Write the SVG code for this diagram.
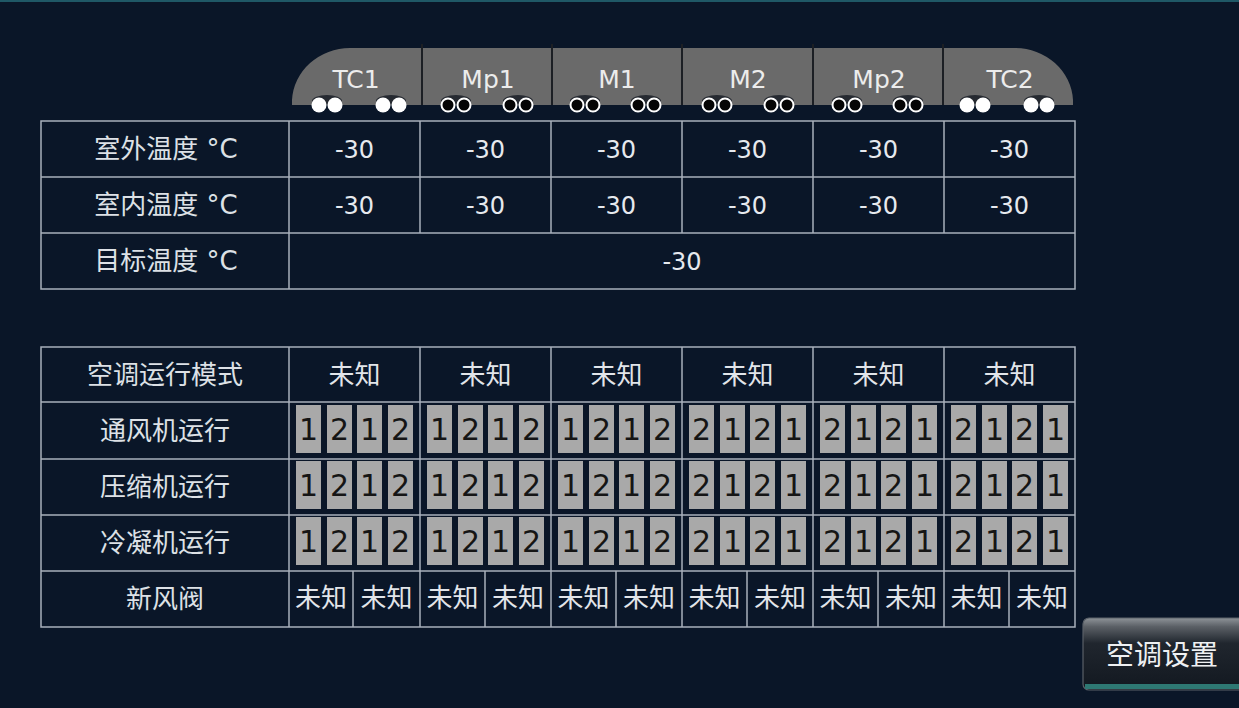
<svg xmlns="http://www.w3.org/2000/svg" width="1239" height="708" viewBox="0 0 1239 708">
<defs>
<style>
.ln{stroke:#a8b0bb;stroke-width:1.5;fill:none}
.lbl{font-family:"DejaVu Sans","Noto Sans CJK SC",sans-serif;font-size:26px;fill:#dde1e6;text-anchor:middle}
.val{font-family:"DejaVu Sans",sans-serif;font-size:24px;fill:#e6e9ee;text-anchor:middle}
.hd{font-family:"DejaVu Sans",sans-serif;font-size:25px;fill:#ececec;text-anchor:middle}
.cj{font-family:"Noto Sans CJK SC",sans-serif;font-size:26px;fill:#e2e5ea;text-anchor:middle}
.bx{fill:#a9a9a9}
.dg{font-family:"DejaVu Sans",sans-serif;font-size:30px;fill:#151515;text-anchor:middle}
.sep{stroke:#1c1f24;stroke-width:2}
.halo{fill:#262a31}
.fc{fill:#ffffff}
.oc{fill:#050505;stroke:#ffffff;stroke-width:2}
</style>
<linearGradient id="btn" x1="0" y1="0" x2="0" y2="1">
<stop offset="0" stop-color="#8e9398"/>
<stop offset="0.12" stop-color="#5b6066"/>
<stop offset="0.35" stop-color="#20262e"/>
<stop offset="1" stop-color="#121820"/>
</linearGradient>
<g id="b1212">
<rect class="bx" x="7" y="2" width="25" height="48"/>
<rect class="bx" x="38" y="2" width="25" height="48"/>
<rect class="bx" x="68" y="2" width="25" height="48"/>
<rect class="bx" x="99" y="2" width="25" height="48"/>
<text class="dg" x="19.5" y="37">1</text>
<text class="dg" x="50.5" y="37">2</text>
<text class="dg" x="80.5" y="37">1</text>
<text class="dg" x="111.5" y="37">2</text>
</g>
<g id="b2121">
<rect class="bx" x="7" y="2" width="25" height="48"/>
<rect class="bx" x="38" y="2" width="25" height="48"/>
<rect class="bx" x="68" y="2" width="25" height="48"/>
<rect class="bx" x="99" y="2" width="25" height="48"/>
<text class="dg" x="19.5" y="37">2</text>
<text class="dg" x="50.5" y="37">1</text>
<text class="dg" x="80.5" y="37">2</text>
<text class="dg" x="111.5" y="37">1</text>
</g>
</defs>

<rect x="0" y="0" width="1239" height="708" fill="#0a1628"/>
<rect x="0" y="0" width="1239" height="2" fill="#1f5866"/>

<g id="header">
<path d="M292,105 L292,100 A58,55 0 0 1 350,48 L1015,48 A58,55 0 0 1 1073,100 L1073,105 Z" fill="#6a6a6a"/>
<line class="sep" x1="422" y1="44" x2="422" y2="105"/>
<line class="sep" x1="552" y1="44" x2="552" y2="105"/>
<line class="sep" x1="682" y1="44" x2="682" y2="105"/>
<line class="sep" x1="813" y1="44" x2="813" y2="105"/>
<line class="sep" x1="943" y1="44" x2="943" y2="105"/>
<text class="hd" x="356" y="88">TC1</text>
<text class="hd" x="488" y="88">Mp1</text>
<text class="hd" x="617" y="88">M1</text>
<text class="hd" x="748" y="88">M2</text>
<text class="hd" x="879" y="88">Mp2</text>
<text class="hd" x="1010" y="88">TC2</text>
<g id="halos">
<ellipse class="halo" cx="327" cy="101" rx="15" ry="6"/>
<ellipse class="halo" cx="391" cy="101" rx="15" ry="6"/>
<ellipse class="halo" cx="456" cy="101" rx="15" ry="6"/>
<ellipse class="halo" cx="518" cy="101" rx="15" ry="6"/>
<ellipse class="halo" cx="585" cy="101" rx="15" ry="6"/>
<ellipse class="halo" cx="646" cy="101" rx="15" ry="6"/>
<ellipse class="halo" cx="717" cy="101" rx="15" ry="6"/>
<ellipse class="halo" cx="779" cy="101" rx="15" ry="6"/>
<ellipse class="halo" cx="847" cy="101" rx="15" ry="6"/>
<ellipse class="halo" cx="908" cy="101" rx="15" ry="6"/>
<ellipse class="halo" cx="975" cy="101" rx="15" ry="6"/>
<ellipse class="halo" cx="1039" cy="101" rx="15" ry="6"/>
</g>
<rect x="292" y="105" width="781" height="12" fill="#0a1628"/>
<g id="dots">
<circle class="fc" cx="319" cy="105" r="7.5"/><circle class="fc" cx="335" cy="105" r="7.5"/>
<circle class="fc" cx="383" cy="105" r="7.5"/><circle class="fc" cx="399" cy="105" r="7.5"/>
<circle class="oc" cx="448" cy="105" r="6.5"/><circle class="oc" cx="464" cy="105" r="6.5"/>
<circle class="oc" cx="510" cy="105" r="6.5"/><circle class="oc" cx="526" cy="105" r="6.5"/>
<circle class="oc" cx="577" cy="105" r="6.5"/><circle class="oc" cx="593" cy="105" r="6.5"/>
<circle class="oc" cx="638" cy="105" r="6.5"/><circle class="oc" cx="654" cy="105" r="6.5"/>
<circle class="oc" cx="709" cy="105" r="6.5"/><circle class="oc" cx="725" cy="105" r="6.5"/>
<circle class="oc" cx="771" cy="105" r="6.5"/><circle class="oc" cx="787" cy="105" r="6.5"/>
<circle class="oc" cx="839" cy="105" r="6.5"/><circle class="oc" cx="855" cy="105" r="6.5"/>
<circle class="oc" cx="900" cy="105" r="6.5"/><circle class="oc" cx="916" cy="105" r="6.5"/>
<circle class="fc" cx="967" cy="105" r="7.5"/><circle class="fc" cx="983" cy="105" r="7.5"/>
<circle class="fc" cx="1031" cy="105" r="7.5"/><circle class="fc" cx="1047" cy="105" r="7.5"/>
</g>
</g>

<g id="table1">
<rect class="ln" x="41" y="121" width="1034" height="168"/>
<line class="ln" x1="41" y1="177" x2="1075" y2="177"/>
<line class="ln" x1="41" y1="233" x2="1075" y2="233"/>
<line class="ln" x1="289" y1="121" x2="289" y2="289"/>
<line class="ln" x1="420" y1="121" x2="420" y2="233"/>
<line class="ln" x1="551" y1="121" x2="551" y2="233"/>
<line class="ln" x1="682" y1="121" x2="682" y2="233"/>
<line class="ln" x1="813" y1="121" x2="813" y2="233"/>
<line class="ln" x1="944" y1="121" x2="944" y2="233"/>
<text class="lbl" x="166" y="158">室外温度 °C</text>
<text class="lbl" x="166" y="214">室内温度 °C</text>
<text class="lbl" x="166" y="270">目标温度 °C</text>
<text class="val" x="354.5" y="158">-30</text>
<text class="val" x="485.5" y="158">-30</text>
<text class="val" x="616.5" y="158">-30</text>
<text class="val" x="747.5" y="158">-30</text>
<text class="val" x="878.5" y="158">-30</text>
<text class="val" x="1009.5" y="158">-30</text>
<text class="val" x="354.5" y="214">-30</text>
<text class="val" x="485.5" y="214">-30</text>
<text class="val" x="616.5" y="214">-30</text>
<text class="val" x="747.5" y="214">-30</text>
<text class="val" x="878.5" y="214">-30</text>
<text class="val" x="1009.5" y="214">-30</text>
<text class="val" x="682" y="270">-30</text>
</g>

<g id="table2">
<rect class="ln" x="41" y="347" width="1034" height="280"/>
<line class="ln" x1="41" y1="402" x2="1075" y2="402"/>
<line class="ln" x1="41" y1="459" x2="1075" y2="459"/>
<line class="ln" x1="41" y1="515" x2="1075" y2="515"/>
<line class="ln" x1="41" y1="571" x2="1075" y2="571"/>
<line class="ln" x1="289" y1="347" x2="289" y2="627"/>
<line class="ln" x1="420" y1="347" x2="420" y2="627"/>
<line class="ln" x1="551" y1="347" x2="551" y2="627"/>
<line class="ln" x1="682" y1="347" x2="682" y2="627"/>
<line class="ln" x1="813" y1="347" x2="813" y2="627"/>
<line class="ln" x1="944" y1="347" x2="944" y2="627"/>
<line class="ln" x1="353" y1="571" x2="353" y2="627"/>
<line class="ln" x1="485" y1="571" x2="485" y2="627"/>
<line class="ln" x1="616" y1="571" x2="616" y2="627"/>
<line class="ln" x1="747" y1="571" x2="747" y2="627"/>
<line class="ln" x1="878" y1="571" x2="878" y2="627"/>
<line class="ln" x1="1009" y1="571" x2="1009" y2="627"/>
<text class="lbl" x="165" y="384">空调运行模式</text>
<text class="lbl" x="165" y="440">通风机运行</text>
<text class="lbl" x="165" y="496">压缩机运行</text>
<text class="lbl" x="165" y="552">冷凝机运行</text>
<text class="lbl" x="165" y="608">新风阀</text>
<text class="cj" x="354.5" y="384">未知</text>
<text class="cj" x="485.5" y="384">未知</text>
<text class="cj" x="616.5" y="384">未知</text>
<text class="cj" x="747.5" y="384">未知</text>
<text class="cj" x="878.5" y="384">未知</text>
<text class="cj" x="1009.5" y="384">未知</text>
<use href="#b1212" x="289" y="403"/>
<use href="#b1212" x="420" y="403"/>
<use href="#b1212" x="551" y="403"/>
<use href="#b2121" x="682" y="403"/>
<use href="#b2121" x="813" y="403"/>
<use href="#b2121" x="944" y="403"/>
<use href="#b1212" x="289" y="459"/>
<use href="#b1212" x="420" y="459"/>
<use href="#b1212" x="551" y="459"/>
<use href="#b2121" x="682" y="459"/>
<use href="#b2121" x="813" y="459"/>
<use href="#b2121" x="944" y="459"/>
<use href="#b1212" x="289" y="515"/>
<use href="#b1212" x="420" y="515"/>
<use href="#b1212" x="551" y="515"/>
<use href="#b2121" x="682" y="515"/>
<use href="#b2121" x="813" y="515"/>
<use href="#b2121" x="944" y="515"/>
<text class="cj" x="321" y="607">未知</text>
<text class="cj" x="386.5" y="607">未知</text>
<text class="cj" x="452.5" y="607">未知</text>
<text class="cj" x="518" y="607">未知</text>
<text class="cj" x="583.5" y="607">未知</text>
<text class="cj" x="649" y="607">未知</text>
<text class="cj" x="714.5" y="607">未知</text>
<text class="cj" x="780" y="607">未知</text>
<text class="cj" x="845.5" y="607">未知</text>
<text class="cj" x="911" y="607">未知</text>
<text class="cj" x="976.5" y="607">未知</text>
<text class="cj" x="1042" y="607">未知</text>
</g>

<g id="btn-settings">
<rect x="1083" y="618" width="166" height="72" rx="6" fill="url(#btn)" stroke="#5a6068" stroke-width="1.2"/>
<rect x="1085" y="684" width="160" height="5" fill="#2e7873"/>
<text class="cj" x="1162" y="665" style="font-size:28px;fill:#eef0f2">空调设置</text>
</g>
</svg>
